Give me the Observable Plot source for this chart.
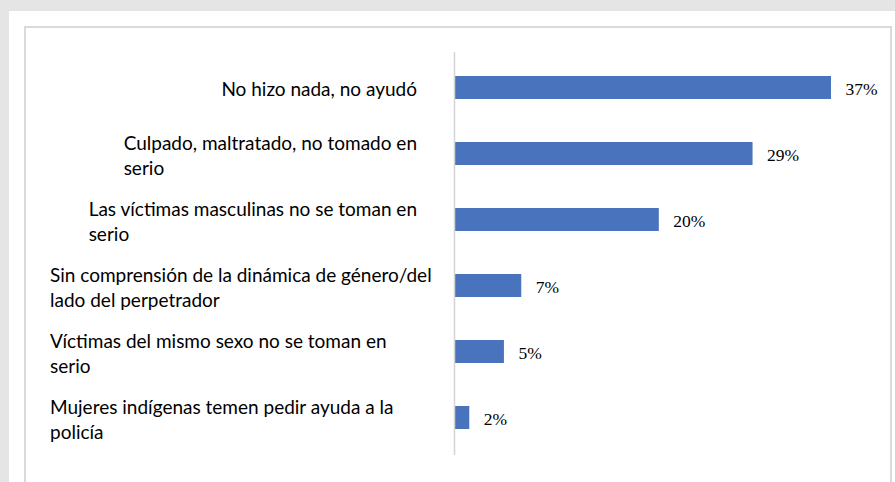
<!DOCTYPE html>
<html>
<head>
<meta charset="utf-8">
<script src="https://cdn.jsdelivr.net/npm/d3@7"></script>
<script src="https://cdn.jsdelivr.net/npm/@observablehq/plot@0.6"></script>
<style>
  html, body { margin: 0; padding: 0; }
  body { width: 895px; height: 482px; background: #e5e5e5; position: relative; overflow: hidden; }
  #panel { position: absolute; left: 9px; top: 11px; width: 886px; height: 471px; background: #fff; }
  #frame { position: absolute; left: 24px; top: 26px; width: 864px; height: 454px; border: 2px solid #dadada; box-sizing: content-box; }
  #chart { position: absolute; left: 0; top: 0; }
</style>
</head>
<body>
<div id="panel"></div>
<div id="frame"></div>
<div id="chart"></div>
<script>
const categories = [
  "No hizo nada, no ayudó",
  "Culpado, maltratado, no tomado en\nserio",
  "Las víctimas masculinas no se toman en\nserio",
  "Sin comprensión de la dinámica de género/del\nlado del perpetrador",
  "Víctimas del mismo sexo no se toman en\nserio",
  "Mujeres indígenas temen pedir ayuda a la\npolicía"
];
const values = [37, 29.3, 20.1, 6.6, 4.9, 1.5];
const valueLabels = ["37%", "29%", "20%", "7%", "5%", "2%"];

const data = categories.map((c, i) => ({cat: c, value: values[i], label: valueLabels[i]}));

const plot = Plot.plot({
  width: 895,
  height: 482,
  marginLeft: 454,
  marginRight: 64,
  marginTop: 52,
  marginBottom: 30,
  style: {background: "transparent", overflow: "visible"},
  x: {domain: [0, 37], axis: null},
  y: {domain: categories, axis: null, paddingInner: 0.655, paddingOuter: 0.33},
  marks: [
    Plot.barX(data, {x: "value", y: "cat", fill: "#4a73be"}),
    Plot.ruleX([0], {stroke: "#d4d4d4", strokeWidth: 1.5, insetBottom: -3}),
    Plot.text(data, {x: "value", y: "cat", text: "label", dx: 14, dy: 1, textAnchor: "start",
      fontFamily: "Liberation Serif", fontSize: 17.5, fill: "#000"}),
    Plot.text(data, {y: "cat", text: "cat", frameAnchor: "left", textAnchor: "start",
      lineAnchor: "middle", lineHeight: 1.32, fontFamily: "Lato", fontSize: 19, fill: "#000"})
  ]
});
document.getElementById("chart").append(plot);

// align wrapped category labels as a left-aligned block ending near the axis;
// blocks that would start close to the left limit snap to it
const rightEdge = 417, leftLimit = 50, snap = 86;
const flat = new Set(categories.map(c => c.replace(/\n/g, "")));
d3.select(plot).selectAll("text").each(function() {
  if (!flat.has(this.textContent.replace(/\n/g, ""))) return;
  const w = this.getBBox().width;
  let x = rightEdge - w;
  if (x < snap) x = leftLimit;
  const m = this.transform.baseVal.consolidate();
  const y = m ? m.matrix.f : 0;
  const g = this.parentNode;
  const gm = g.transform && g.transform.baseVal.consolidate();
  const gx = gm ? gm.matrix.e : 0;
  this.setAttribute("transform", `translate(${x - gx},${y})`);
});
</script>
</body>
</html>
